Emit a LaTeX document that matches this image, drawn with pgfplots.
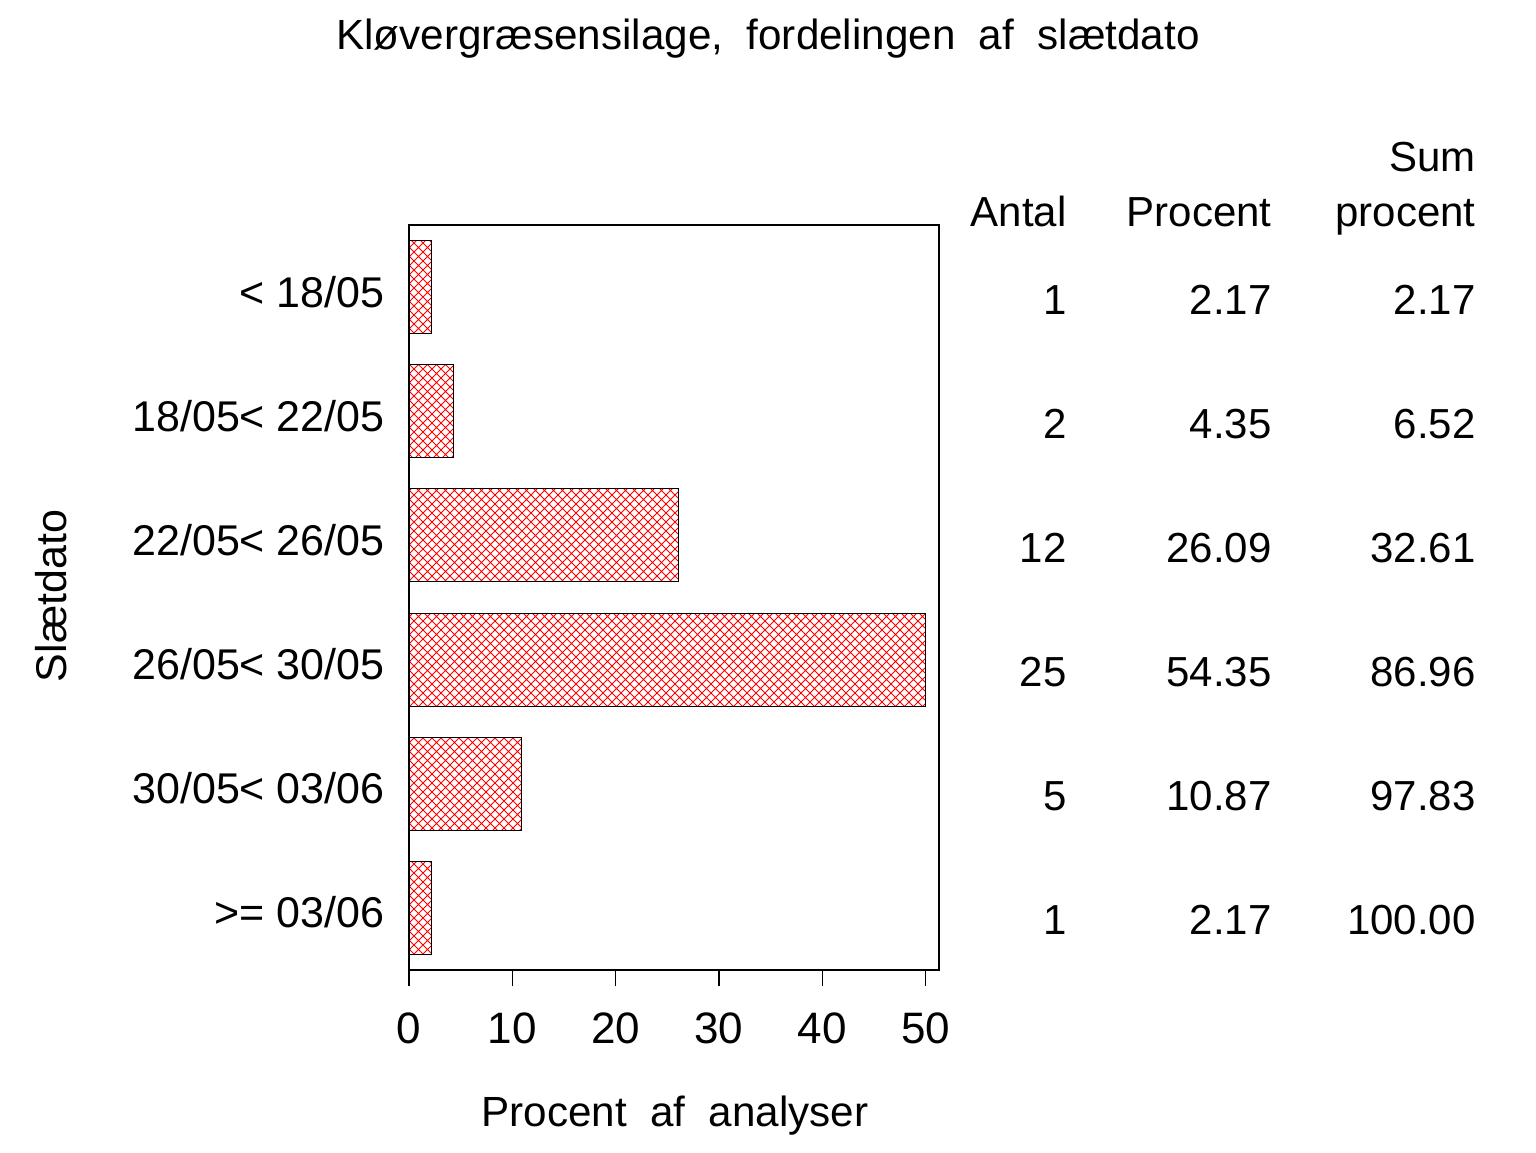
\documentclass[border=0pt]{standalone}
\usepackage{pgfplots}
\pgfplotsset{compat=1.18}
\usepackage{pgfplotstable}
\usepackage{fontspec}
\setmainfont{Liberation Sans}
\usetikzlibrary{patterns}
\pgfdeclarepatternformonly{xhatch}{\pgfqpoint{-1pt}{-1pt}}{\pgfqpoint{5.5pt}{5.5pt}}{\pgfqpoint{4.5pt}{4.5pt}}{%
  \pgfsetlinewidth{0.4pt}%
  \pgfpathmoveto{\pgfqpoint{-0.3pt}{-0.3pt}}\pgfpathlineto{\pgfqpoint{4.8pt}{4.8pt}}%
  \pgfpathmoveto{\pgfqpoint{-0.3pt}{4.8pt}}\pgfpathlineto{\pgfqpoint{4.8pt}{-0.3pt}}%
  \pgfusepath{stroke}}

\pgfplotstableread{
y pct
1 2.17
2 4.35
3 26.09
4 54.35
5 10.87
6 2.17
}\datatable

\begin{document}
\begin{tikzpicture}[x=0.5pt,y=0.5pt]
\path (0,0) rectangle (1536,1152);
\begin{axis}[
  at={(204.5pt,91pt)}, anchor=south west,
  scale only axis, width=265pt, height=372.5pt,
  xmin=0, xmax=51.3, ymin=0.5, ymax=6.5, y dir=reverse,
  axis line style={line width=0.6pt},
  xtick={0,10,20,30,40,50}, xtick pos=bottom, ytick pos=left,
  tick align=outside, major tick length=8pt,
  xtick style={line width=0.6pt, black},
  ytick={1,2,3,4,5,6},
  yticklabels={{< 18/05},{18/05< 22/05},{22/05< 26/05},{26/05< 30/05},{30/05< 03/06},{>= 03/06}},
  ytick style={draw=none},
  yticklabel style={font=\fontsize{21.5}{25}\selectfont, anchor=base east, inner sep=0pt, xshift=-4pt, yshift=-10pt},
  xticklabel style={font=\fontsize{22}{26}\selectfont, anchor=north, inner sep=0pt, yshift=-13pt},
  /pgf/number format/assume math mode=true,
]
\addplot[xbar, bar width=46.5pt, draw=black, line width=0.5pt, pattern=xhatch, pattern color=red,
  x filter/.expression={min(x,50)}] table[x=pct,y=y]{\datatable};
\end{axis}

\node[anchor=base, inner sep=0pt] at (768,1102) {\fontsize{21.1}{25}\selectfont Kløvergræsensilage,\ \ fordelingen\ \ af\ \ slætdato};
\node[anchor=base, inner sep=0pt] at (675,26) {\fontsize{21.1}{25}\selectfont Procent\ \ af\ \ analyser};
\node[rotate=90, anchor=base, inner sep=0pt] at (66,556) {\fontsize{21.5}{25}\selectfont Slætdato};

\begin{scope}[every node/.style={anchor=base east, inner sep=0pt, font=\fontsize{21}{25}\selectfont}]
\node at (1476,980) {Sum};
\node at (1067,925) {Antal};
\node at (1272,925) {Procent};
\node at (1476,925) {procent};
\foreach \a/\p/\s [count=\i] in {1/2.17/2.17, 2/4.35/6.52, 12/26.09/32.61, 25/54.35/86.96, 5/10.87/97.83, 1/2.17/100.00}{
  \pgfmathsetmacro\yy{1152-314.5-124*(\i-1)}
  \node at (1067,\yy) {\a};
  \node at (1272,\yy) {\p};
  \node at (1476,\yy) {\s};
}
\end{scope}
\end{tikzpicture}
\end{document}
